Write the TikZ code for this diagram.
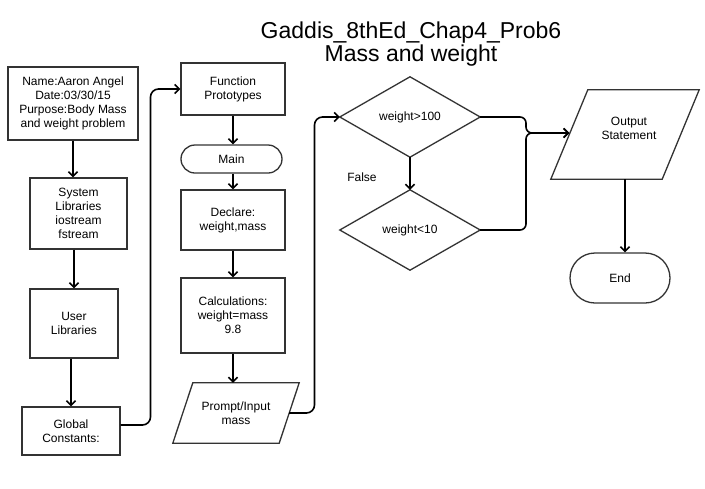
\documentclass[tikz,border=0pt]{standalone}
\usepackage{fontspec}
\setmainfont{Liberation Sans}
\usetikzlibrary{arrows.meta,calc}
\begin{document}
\begin{tikzpicture}[x=1pt,y=-1pt,
  txt/.style={align=center, inner sep=0pt, font=\fontsize{12}{14}\selectfont},
  procbox/.style={txt, draw=black!80, line width=1.3pt},
  termbox/.style={procbox, rounded corners=#1},
  outline/.style={draw=black!80, line width=1.3pt, line join=miter},
  conn/.style={line width=1.6pt, -{Straight Barb[length=4.5pt,width=9pt]}},
  link/.style={line width=1.6pt, rounded corners=8pt}
]
% canvas
\path[fill=white] (0,0) rectangle (705,488);
\useasboundingbox (0,0) rectangle (705,488);

% title
\node[align=center, inner sep=0pt, font=\fontsize{23}{22.5}\selectfont] (title) at (411,44)
  {Gaddis\_8thEd\_Chap4\_Prob6\\Mass and weight};

% left column
\node[procbox, minimum width=130pt, minimum height=73pt] (name) at (73,103.5)
  {Name:Aaron Angel\\Date:03/30/15\\Purpose:Body Mass\\and weight problem};
\node[procbox, minimum width=97pt, minimum height=71pt] (sys) at (78.5,213.5)
  {System\\Libraries\\iostream\\fstream};
\node[procbox, minimum width=88pt, minimum height=69pt] (user) at (74,323.5)
  {User\\Libraries};
\node[procbox, minimum width=98pt, minimum height=48pt] (global) at (71,431)
  {Global\\Constants:};

% middle column
\node[procbox, minimum width=104pt, minimum height=52pt] (func) at (233,89)
  {Function\\Prototypes};
\node[termbox=14pt, minimum width=101pt, minimum height=28pt] (main) at (231.5,159)
  {Main};
\node[procbox, minimum width=104pt, minimum height=60pt] (decl) at (233,220)
  {Declare:\\weight,mass};
\node[procbox, minimum width=104pt, minimum height=75pt] (calc) at (233,315.5)
  {Calculations:\\weight=mass\\9.8};
\node[txt, minimum width=106pt, minimum height=60pt] (prompt) at (236,413)
  {Prompt/Input\\mass};
\draw[outline] ([xshift=-10pt]prompt.south west) -- ([xshift=-10pt]prompt.south east)
  -- ([xshift=10pt]prompt.north east) -- ([xshift=10pt]prompt.north west) -- cycle;

% decisions
\node[txt, minimum width=140pt, minimum height=80pt] (d1) at (410,117) {weight>100};
\draw[outline] (d1.north) -- (d1.east) -- (d1.south) -- (d1.west) -- cycle;
\node[txt, minimum width=140pt, minimum height=80pt] (d2) at (410,230) {weight<10};
\draw[outline] (d2.north) -- (d2.east) -- (d2.south) -- (d2.west) -- cycle;
\node[txt] (false) at (362,177) {False};

% output and end
\node[txt, minimum width=111pt, minimum height=89pt] (out) at (625,134.5) {};
\node[txt] (outlabel) at (629,128) {Output\\Statement};
\draw[outline] ([xshift=-18.5pt]out.south west) -- ([xshift=-18.5pt]out.south east)
  -- ([xshift=18.5pt]out.north east) -- ([xshift=18.5pt]out.north west) -- cycle;
\node[termbox=25pt, minimum width=100pt, minimum height=50pt] (end) at (620,278)
  {End};

% connectors
\draw[conn] (name.south) -- (name.south |- sys.north);
\draw[conn] (user.north |- sys.south) -- (user.north);
\draw[conn] (global.north |- user.south) -- (global.north);
\draw[conn, link] ([yshift=6pt]global.east) -| ($(global.east)!0.5!(func.west)$) |- (func.west);
\draw[conn] (func.south) -- (func.south |- main.north);
\draw[conn] (main.south -| decl.north) -- (decl.north);
\draw[conn] (decl.south) -- (calc.north);
\draw[conn] (calc.south) -- (calc.south |- prompt.north);
\draw[conn, link] (prompt.east) -| ($(prompt.east)!0.5!(d1.west)$) |- (d1.west);
\draw[conn] (d1.south) -- (d2.north);
\coordinate (merge) at (526,133);
\draw[conn, link, rounded corners=6pt] (d1.east) -| (merge) -- (merge -| out.west);
\draw[conn, link, rounded corners=6pt] (d2.east) -| (merge) -- (merge -| out.west);
\draw[conn] (out.south) -- (out.south |- end.north);
\end{tikzpicture}
\end{document}
